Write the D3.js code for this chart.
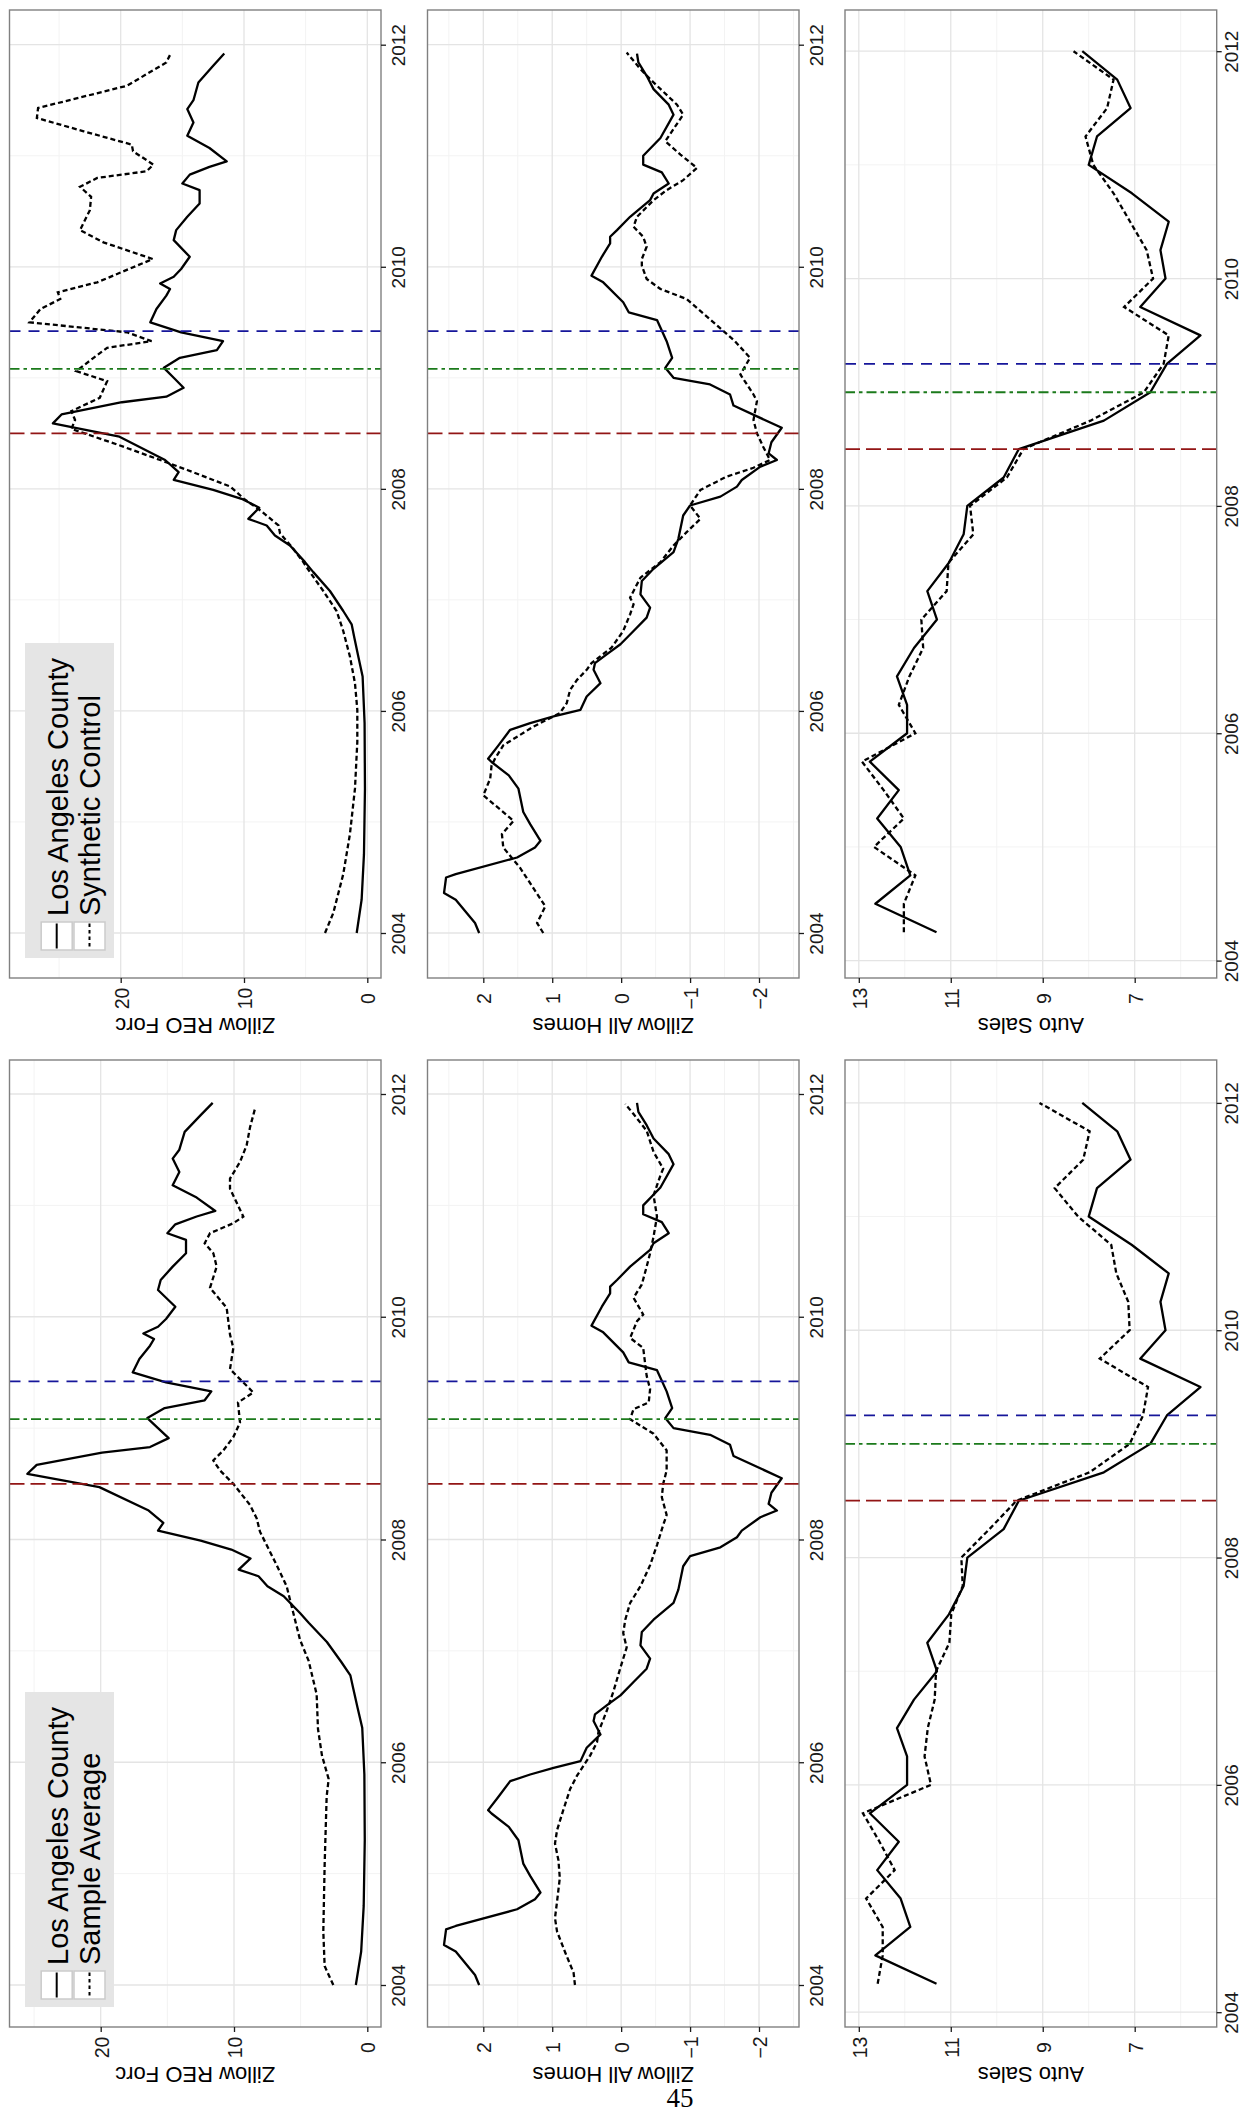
<!DOCTYPE html>
<html>
<head>
<meta charset="utf-8">
<script src="https://cdn.jsdelivr.net/npm/d3@7"></script>
<style>
  body { margin: 0; background: #fff; }
  svg { display: block; }
</style>
</head>
<body>
<svg id="page" width="1243" height="2114"></svg>
<script>
// Los Angeles County series (same in both figures), [year, value]
const laReo = [
  [2004.00,0.86],[2004.30,0.46],[2004.71,0.27],[2005.30,0.19],[2005.89,0.22],[2006.31,0.38],
  [2006.49,0.73],[2006.66,1.05],[2006.78,1.27],[2006.90,1.95],[2007.08,3.03],[2007.25,4.38],
  [2007.34,5.05],[2007.49,6.27],[2007.58,7.49],[2007.67,8.16],[2007.73,9.65],[2007.83,8.76],
  [2007.91,10.2],[2007.99,12.5],[2008.08,15.7],[2008.15,15.3],[2008.26,16.4],[2008.47,20.1],
  [2008.59,25.5],[2008.67,24.8],[2008.78,19.9],[2008.83,16.3],[2008.91,14.9],[2009.00,15.7],
  [2009.09,16.5],[2009.18,15.2],[2009.25,12.2],[2009.33,11.7],[2009.41,15.1],[2009.50,17.6],
  [2009.62,17.1],[2009.74,16.3],[2009.80,16.0],[2009.85,16.8],[2009.91,15.7],[2009.98,15.1],
  [2010.09,14.4],[2010.24,15.7],[2010.33,15.5],[2010.45,14.6],[2010.57,13.6],[2010.69,13.6],
  [2010.75,15.0],[2010.83,14.4],[2010.90,12.8],[2010.95,11.4],[2011.07,12.8],[2011.18,14.6],
  [2011.30,14.1],[2011.42,14.6],[2011.50,14.1],[2011.66,13.7],[2011.81,12.5],[2011.92,11.6]
];
const laAH = [
  [2004.00,2.06],[2004.09,2.12],[2004.30,2.40],[2004.36,2.57],[2004.50,2.54],[2004.53,2.40],
  [2004.68,1.51],[2004.77,1.25],[2004.83,1.17],[2004.98,1.32],[2005.09,1.42],[2005.30,1.49],
  [2005.42,1.63],[2005.54,1.88],[2005.57,1.93],[2005.69,1.78],[2005.83,1.61],[2005.89,1.32],
  [2005.95,0.98],[2006.01,0.59],[2006.13,0.50],[2006.25,0.30],[2006.37,0.40],[2006.43,0.38],
  [2006.51,0.21],[2006.60,0.01],[2006.72,-0.18],[2006.84,-0.37],[2006.93,-0.42],[2007.05,-0.28],
  [2007.17,-0.30],[2007.28,-0.47],[2007.43,-0.76],[2007.55,-0.83],[2007.76,-0.90],[2007.85,-1.00],
  [2007.93,-1.44],[2008.02,-1.68],[2008.08,-1.75],[2008.20,-2.02],[2008.26,-2.26],[2008.32,-2.14],
  [2008.42,-2.18],[2008.55,-2.33],[2008.75,-1.63],[2008.85,-1.58],[2008.94,-1.29],[2009.00,-0.76],
  [2009.09,-0.64],[2009.18,-0.74],[2009.33,-0.66],[2009.52,-0.52],[2009.59,-0.11],[2009.68,-0.03],
  [2009.86,0.26],[2009.92,0.43],[2010.09,0.28],[2010.21,0.16],[2010.27,0.16],[2010.33,0.06],
  [2010.45,-0.13],[2010.60,-0.42],[2010.66,-0.47],[2010.75,-0.69],[2010.85,-0.59],[2010.92,-0.32],
  [2011.00,-0.32],[2011.16,-0.57],[2011.37,-0.76],[2011.46,-0.69],[2011.60,-0.47],[2011.72,-0.37],
  [2011.84,-0.25],[2011.92,-0.23]
];
// quarterly auto sales
const autoYears = [2004.25,2004.5,2004.75,2005,2005.25,2005.5,2005.75,2006,2006.25,2006.5,2006.75,2007,
  2007.25,2007.5,2007.75,2008,2008.25,2008.5,2008.75,2009,2009.25,2009.5,2009.75,2010,
  2010.25,2010.5,2010.75,2011,2011.25,2011.5,2011.75,2012];
const laAuto = [11.31,12.64,11.88,12.09,12.60,12.13,12.76,11.95,11.95,12.17,11.80,11.30,
  11.51,11.04,10.72,10.64,9.85,9.52,7.67,6.66,6.30,5.57,6.88,6.33,
  6.44,6.26,7.06,8.00,7.82,7.09,7.38,8.14];

// Synthetic control series
const synReo = [
  [2004.00,3.43],[2004.18,2.76],[2004.53,1.95],[2004.89,1.41],[2005.30,1.00],[2005.72,0.81],
  [2006.01,0.81],[2006.25,1.00],[2006.49,1.41],[2006.72,1.95],[2006.90,2.49],[2007.08,3.57],
  [2007.25,4.65],[2007.34,5.19],[2007.46,6.00],[2007.60,7.08],[2007.67,7.20],[2007.80,8.60],
  [2007.91,10.0],[2008.02,11.1],[2008.08,12.5],[2008.17,14.6],[2008.26,16.8],[2008.40,20.3],
  [2008.54,24.0],[2008.62,23.7],[2008.70,24.0],[2008.82,21.7],[2008.97,21.1],[2009.06,23.6],
  [2009.18,22.2],[2009.27,21.1],[2009.33,17.5],[2009.41,19.5],[2009.50,27.4],[2009.62,26.5],
  [2009.71,24.9],[2009.77,25.1],[2009.86,21.9],[2010.07,17.4],[2010.22,21.4],[2010.33,23.3],
  [2010.51,22.5],[2010.63,22.4],[2010.72,23.3],[2010.80,21.9],[2010.86,17.9],[2010.92,17.35],
  [2011.04,19.0],[2011.10,19.1],[2011.22,23.0],[2011.34,26.8],[2011.43,26.7],[2011.63,19.5],
  [2011.84,16.3],[2011.93,15.9]
];
const synAH = [
  [2004.00,1.13],[2004.09,1.22],[2004.24,1.10],[2004.59,1.47],[2004.77,1.71],[2004.89,1.73],
  [2005.01,1.56],[2005.24,2.00],[2005.39,1.90],[2005.51,1.88],[2005.57,1.83],[2005.69,1.71],
  [2005.86,1.27],[2005.98,0.89],[2006.07,0.79],[2006.19,0.74],[2006.28,0.64],[2006.37,0.50],
  [2006.43,0.43],[2006.57,0.14],[2006.72,-0.03],[2006.87,-0.13],[2006.96,-0.18],[2007.02,-0.13],
  [2007.20,-0.28],[2007.34,-0.57],[2007.49,-0.76],[2007.61,-0.95],[2007.73,-1.15],[2007.85,-1.00],
  [2007.99,-1.15],[2008.11,-1.53],[2008.19,-1.92],[2008.26,-2.16],[2008.38,-2.06],[2008.50,-1.97],
  [2008.62,-1.92],[2008.79,-1.97],[2008.85,-1.92],[2009.03,-1.73],[2009.18,-1.87],[2009.33,-1.65],
  [2009.50,-1.34],[2009.71,-0.95],[2009.80,-0.57],[2009.89,-0.37],[2010.01,-0.30],[2010.07,-0.30],
  [2010.18,-0.37],[2010.27,-0.32],[2010.36,-0.18],[2010.45,-0.23],[2010.60,-0.47],[2010.69,-0.66],
  [2010.78,-0.90],[2010.89,-1.10],[2011.01,-0.86],[2011.13,-0.64],[2011.37,-0.90],[2011.46,-0.81],
  [2011.66,-0.47],[2011.78,-0.28],[2011.93,-0.08]
];
const synAuto = [12.02,12.02,11.77,12.67,12.02,12.46,12.93,11.77,12.13,11.90,11.60,11.64,
  11.09,11.05,10.51,10.58,9.78,9.42,7.96,6.80,6.37,6.26,7.23,6.60,
  6.74,7.10,7.46,7.90,8.07,7.60,7.46,8.33];

// Sample average series
const sampReo = [
  [2004.00,2.55],[2004.17,3.20],[2004.48,3.30],[2005.08,3.20],[2005.69,3.05],[2005.85,2.90],
  [2006.06,3.40],[2006.30,3.70],[2006.61,3.80],[2006.91,4.40],[2007.10,5.05],[2007.34,5.55],
  [2007.58,6.05],[2007.77,6.80],[2007.95,7.55],[2008.07,8.05],[2008.19,8.30],[2008.31,8.80],
  [2008.50,10.05],[2008.62,11.05],[2008.71,11.55],[2008.80,10.8],[2008.92,10.05],[2009.05,9.55],
  [2009.23,9.70],[2009.32,8.55],[2009.41,9.30],[2009.53,10.3],[2009.72,10.05],[2009.84,10.3],
  [2010.08,10.55],[2010.26,11.8],[2010.45,11.3],[2010.57,11.55],[2010.66,12.2],[2010.75,11.8],
  [2010.84,10.05],[2010.90,9.30],[2011.15,10.3],[2011.24,10.3],[2011.39,9.55],[2011.54,9.05],
  [2011.70,8.80],[2011.88,8.40]
];
const sampAH = [
  [2004.00,0.67],[2004.11,0.69],[2004.29,0.81],[2004.48,0.93],[2004.60,0.96],[2004.75,0.93],
  [2004.96,0.89],[2005.12,0.91],[2005.27,0.96],[2005.39,0.93],[2005.57,0.84],[2005.76,0.74],
  [2005.88,0.64],[2006.06,0.45],[2006.18,0.35],[2006.27,0.33],[2006.46,0.21],[2006.64,0.11],
  [2006.85,0.01],[2007.03,-0.08],[2007.16,-0.03],[2007.28,-0.06],[2007.43,-0.13],[2007.58,-0.28],
  [2007.77,-0.42],[2007.95,-0.52],[2008.13,-0.61],[2008.22,-0.66],[2008.38,-0.59],[2008.50,-0.61],
  [2008.62,-0.66],[2008.80,-0.66],[2008.95,-0.47],[2009.08,-0.13],[2009.17,-0.18],[2009.23,-0.40],
  [2009.35,-0.42],[2009.47,-0.37],[2009.72,-0.32],[2009.81,-0.13],[2009.96,-0.23],[2010.02,-0.32],
  [2010.17,-0.18],[2010.29,-0.30],[2010.45,-0.37],[2010.57,-0.42],[2010.72,-0.47],[2010.90,-0.52],
  [2011.09,-0.47],[2011.27,-0.57],[2011.33,-0.61],[2011.48,-0.47],[2011.67,-0.37],[2011.82,-0.18],
  [2011.91,-0.06]
];
const sampAuto = [12.59,12.48,12.48,12.84,12.22,12.55,12.91,11.43,11.57,11.50,11.35,11.32,
  11.03,10.99,10.74,10.77,10.16,9.57,7.98,7.11,6.82,6.71,7.76,7.11,
  7.14,7.40,7.51,8.23,8.74,8.12,7.98,9.07];

// event dates (vertical reference lines)
const eventsMonthly = [2008.5, 2009.08, 2009.42];
const eventsQuarterly = [2008.5, 2009.0, 2009.25];
const eventColors = ["#921515", "#1b7a1b", "#16169a"];
const eventDash = ["15,6", "10,4,3.5,4", "11,8"];

const yearTicks = [2004, 2006, 2008, 2010, 2012];
const yearMinor = [2005, 2007, 2009, 2011];

const font = "'Liberation Sans', Arial, Helvetica, sans-serif";
const svg = d3.select('#page');

// the page is printed sideways: time runs up the page, values run right-to-left
const blocks = [
  { label: "Synthetic Control", top: 10, bottom: 978, mon: [933, 44.7], qtr: [960.6, 51.2],
    reo: synReo, ah: synAH, auto: synAuto, reoRange: [367.3, 120.7] },
  { label: "Sample Average", top: 1060, bottom: 2027, mon: [1985, 1094], qtr: [2012.2, 1102.9],
    reo: sampReo, ah: sampAH, auto: sampAuto, reoRange: [367.3, 100.7] }
];

const columns = [
  { key: "reo", left: 9.5, right: 381, title: "Zillow REO Forc", labelGap: 24.3,
    ticks: [0, 10, 20], minor: [5, 15, 25], domain: [0, 20] },
  { key: "ah", left: 427.5, right: 799, title: "Zillow All Homes", labelGap: 24.3,
    ticks: [-2, -1, 0, 1, 2], minor: [-2.5, -1.5, -0.5, 0.5, 1.5, 2.5], domain: [-2, 2], range: [759, 483.3] },
  { key: "auto", left: 845, right: 1216.7, title: "Auto Sales", labelGap: 21.5,
    ticks: [7, 9, 11, 13], minor: [6, 8, 10, 12], domain: [7, 13], range: [1134.7, 858.8] }
];

blocks.forEach(b => columns.forEach(c => drawPanel(b, c)));

function drawPanel(b, c) {
  const g = svg.append('g');
  const quarterly = c.key === "auto";

  const v = d3.scaleLinear().domain(c.domain).range(c.key === "reo" ? b.reoRange : c.range);
  const t = d3.scaleLinear().domain([2004, 2012]).range(quarterly ? b.qtr : b.mon);

  // grid
  const grid = g.append('g');
  grid.selectAll('.vmin').data(c.minor.filter(d => v(d) > c.left && v(d) < c.right)).enter()
    .append('line').attr('x1', v).attr('x2', v).attr('y1', b.top).attr('y2', b.bottom)
    .attr('stroke', '#f3f3f3').attr('stroke-width', 1);
  grid.selectAll('.tmin').data(yearMinor).enter()
    .append('line').attr('y1', t).attr('y2', t).attr('x1', c.left).attr('x2', c.right)
    .attr('stroke', '#f3f3f3').attr('stroke-width', 1);
  grid.selectAll('.vmaj').data(c.ticks).enter()
    .append('line').attr('x1', v).attr('x2', v).attr('y1', b.top).attr('y2', b.bottom)
    .attr('stroke', '#e4e4e4').attr('stroke-width', 1.3);
  grid.selectAll('.tmaj').data(yearTicks).enter()
    .append('line').attr('y1', t).attr('y2', t).attr('x1', c.left).attr('x2', c.right)
    .attr('stroke', '#e4e4e4').attr('stroke-width', 1.3);

  // series
  const la = quarterly ? autoYears.map((yr, i) => [yr, laAuto[i]]) : (c.key === "reo" ? laReo : laAH);
  const other = quarterly ? autoYears.map((yr, i) => [yr, b.auto[i]]) : b[c.key];
  const line = d3.line().x(d => v(d[1])).y(d => t(d[0]));

  g.append('path').datum(la).attr('d', line)
    .attr('fill', 'none').attr('stroke', '#000').attr('stroke-width', 2.3).attr('stroke-linejoin', 'round');
  g.append('path').datum(other).attr('d', line)
    .attr('fill', 'none').attr('stroke', '#000').attr('stroke-width', 2.3).attr('stroke-dasharray', '5,3');

  // event lines
  const ev = quarterly ? eventsQuarterly : eventsMonthly;
  g.selectAll('.event').data(ev).enter()
    .append('line')
    .attr('x1', c.left).attr('x2', c.right)
    .attr('y1', d => t(d)).attr('y2', d => t(d))
    .attr('stroke', (d, i) => eventColors[i])
    .attr('stroke-width', 1.8)
    .attr('stroke-dasharray', (d, i) => eventDash[i]);

  // panel border
  g.append('rect')
    .attr('x', c.left).attr('y', b.top)
    .attr('width', c.right - c.left).attr('height', b.bottom - b.top)
    .attr('fill', 'none').attr('stroke', '#808080').attr('stroke-width', 1.4);

  // time axis on the right side
  const ta = g.append('g')
    .attr('transform', `translate(${c.right},0)`)
    .call(d3.axisRight(t).tickValues(yearTicks).tickFormat(d3.format('d')).tickSize(5));
  ta.select('.domain').remove();
  ta.attr('font-size', 19).attr('font-family', font).attr('color', '#1a1a1a');
  ta.selectAll('.tick line').attr('stroke-width', 1.3);
  ta.selectAll('.tick text')
    .attr('x', 0).attr('dy', 0)
    .attr('text-anchor', 'middle')
    .attr('transform', `translate(${c.labelGap},0) rotate(-90)`);

  // value axis below
  const va = g.append('g')
    .attr('transform', `translate(0,${b.bottom})`)
    .call(d3.axisBottom(v).tickValues(c.ticks).tickFormat(d3.format('d')).tickSize(5));
  va.select('.domain').remove();
  va.attr('font-size', 19.5).attr('font-family', font).attr('color', '#1a1a1a');
  va.selectAll('.tick line').attr('stroke-width', 1.3);
  va.selectAll('.tick text')
    .attr('y', 0).attr('dy', 0)
    .attr('text-anchor', 'middle')
    .attr('transform', 'translate(7.3,20.5) rotate(-90)');

  // axis title, upside down
  g.append('text')
    .attr('transform', `translate(${(c.left + c.right) / 2},${b.bottom + 40}) rotate(180)`)
    .attr('text-anchor', 'middle')
    .attr('font-family', font).attr('font-size', 22).attr('fill', '#000')
    .text(c.title);

  if (c.key === "reo") drawLegend(g, b);
}

function drawLegend(g, b) {
  const base = b.bottom;
  const lg = g.append('g');
  lg.append('rect')
    .attr('x', 25).attr('y', base - 335).attr('width', 89).attr('height', 315)
    .attr('fill', '#e5e5e5');

  const items = [
    { label: "Los Angeles County", dash: null, x: 41.2, textX: 68 },
    { label: b.label, dash: "3.5,3", x: 74, textX: 100 }
  ];
  items.forEach(it => {
    lg.append('rect')
      .attr('x', it.x).attr('y', base - 56).attr('width', 31).attr('height', 28)
      .attr('fill', '#fff').attr('stroke', '#cbcbcb').attr('stroke-width', 1.5);
    lg.append('line')
      .attr('x1', it.x + 15.5).attr('x2', it.x + 15.5)
      .attr('y1', base - 54.5).attr('y2', base - 29.5)
      .attr('stroke', '#000').attr('stroke-width', 2)
      .attr('stroke-dasharray', it.dash);
    lg.append('text')
      .attr('transform', `translate(${it.textX},${base - 62}) rotate(-90)`)
      .attr('font-family', font).attr('font-size', 29).attr('fill', '#000')
      .text(it.label);
  });
}

// page number
svg.append('text')
  .attr('x', 680).attr('y', 2107)
  .attr('text-anchor', 'middle')
  .attr('font-family', "'Liberation Serif', 'DejaVu Serif', serif")
  .attr('font-size', 27)
  .text('45');
</script>
</body>
</html>
